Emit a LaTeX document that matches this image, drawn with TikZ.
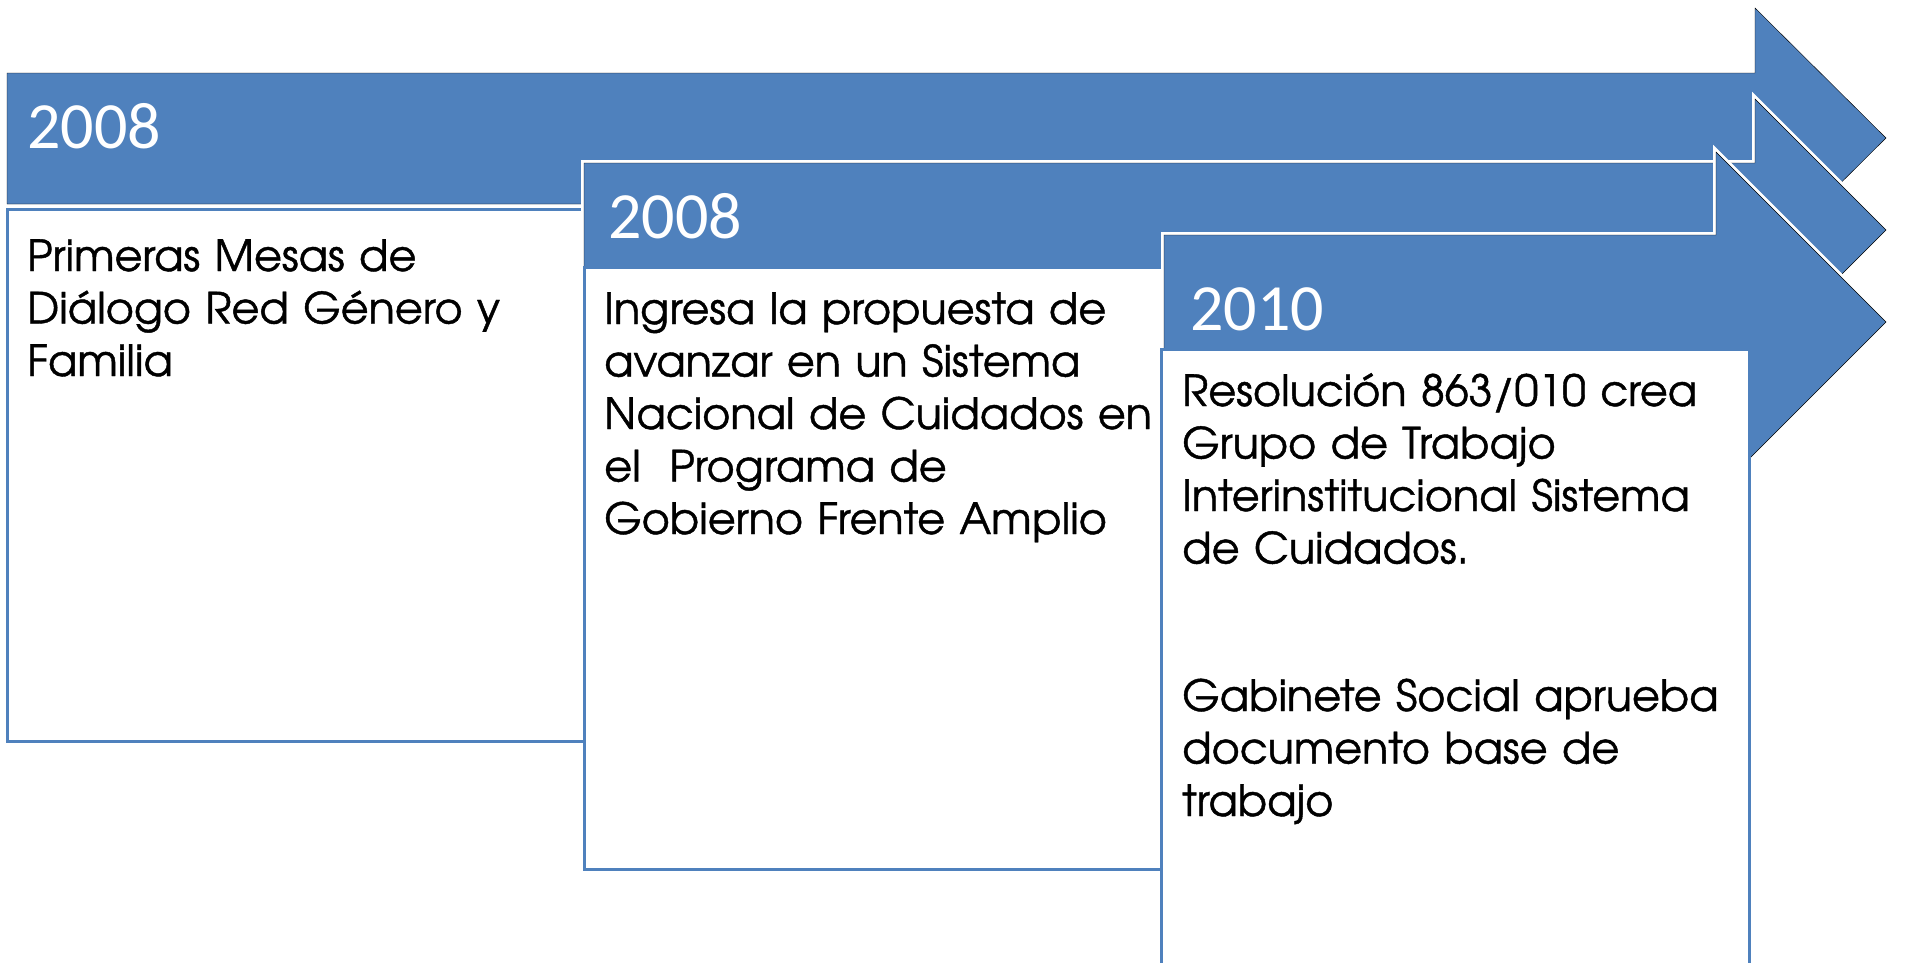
\documentclass[tikz,border=0pt]{standalone}
\usepackage{fontspec}
\setmainfont{TeX Gyre Adventor}[FakeBold=1]
\newfontfamily\yearfont{Carlito}
\definecolor{bandblue}{HTML}{4F81BD}

\begin{document}
\begin{tikzpicture}[x=1pt,y=-1pt,
	band/.style={fill=bandblue,preaction={draw=white,line width=6pt}},
	stage/.style={fill=white,draw=bandblue,line width=3pt},
	yeartxt/.style={anchor=base west,inner sep=0pt,text=white,font=\yearfont\fontsize{66}{78}\selectfont},
	bodytxt/.style={anchor=base west,inner sep=0pt,align=left,text width=620pt,font=\fontsize{43}{52.5}\selectfont}]

	\useasboundingbox (0,0) rectangle (1930,962);
	\clip (0,0) rectangle (1930,962);

	\draw[band] (7,73) -- (1755,73) -- (1755,8) -- (1886,138) -- (1755,268) -- (1755,204) -- (7,204) -- cycle;
	\draw[stage] (7,209) rectangle (586,741);

	\draw[band] (584,163) -- (1755,163) -- (1755,99) -- (1886,230) -- (1755,361) -- (1755,297) -- (584,297) -- cycle;
	\draw[stage] (584,267) rectangle (1163,869);

	\draw[band] (1164,235) -- (1716,235) -- (1716,152) -- (1886,322) -- (1716,492) -- (1716,409) -- (1164,409) -- cycle;
	\draw[stage] (1161,349) rectangle (1749,990);

	\node[yeartxt] (year1) at (27,148) {2008};
	\node[yeartxt] (year2) at (608,238) {2008};
	\node[yeartxt] (year3) at (1190,330) {2010};

	\node[bodytxt] (text1) at (27,271) {Primeras Mesas de\\Diálogo Red Género y\\Familia};
	\node[bodytxt] (text2) at (604,324) {Ingresa la propuesta de\\avanzar en un Sistema\\Nacional de Cuidados en\\el\ \ Programa de\\Gobierno Frente Amplio};
	\node[bodytxt] (text3) at (1182,406) {Resolución 863/010 crea\\Grupo de Trabajo\\Interinstitucional Sistema\\de Cuidados.\\[95pt]Gabinete Social aprueba\\documento base de\\trabajo};
\end{tikzpicture}
\end{document}
